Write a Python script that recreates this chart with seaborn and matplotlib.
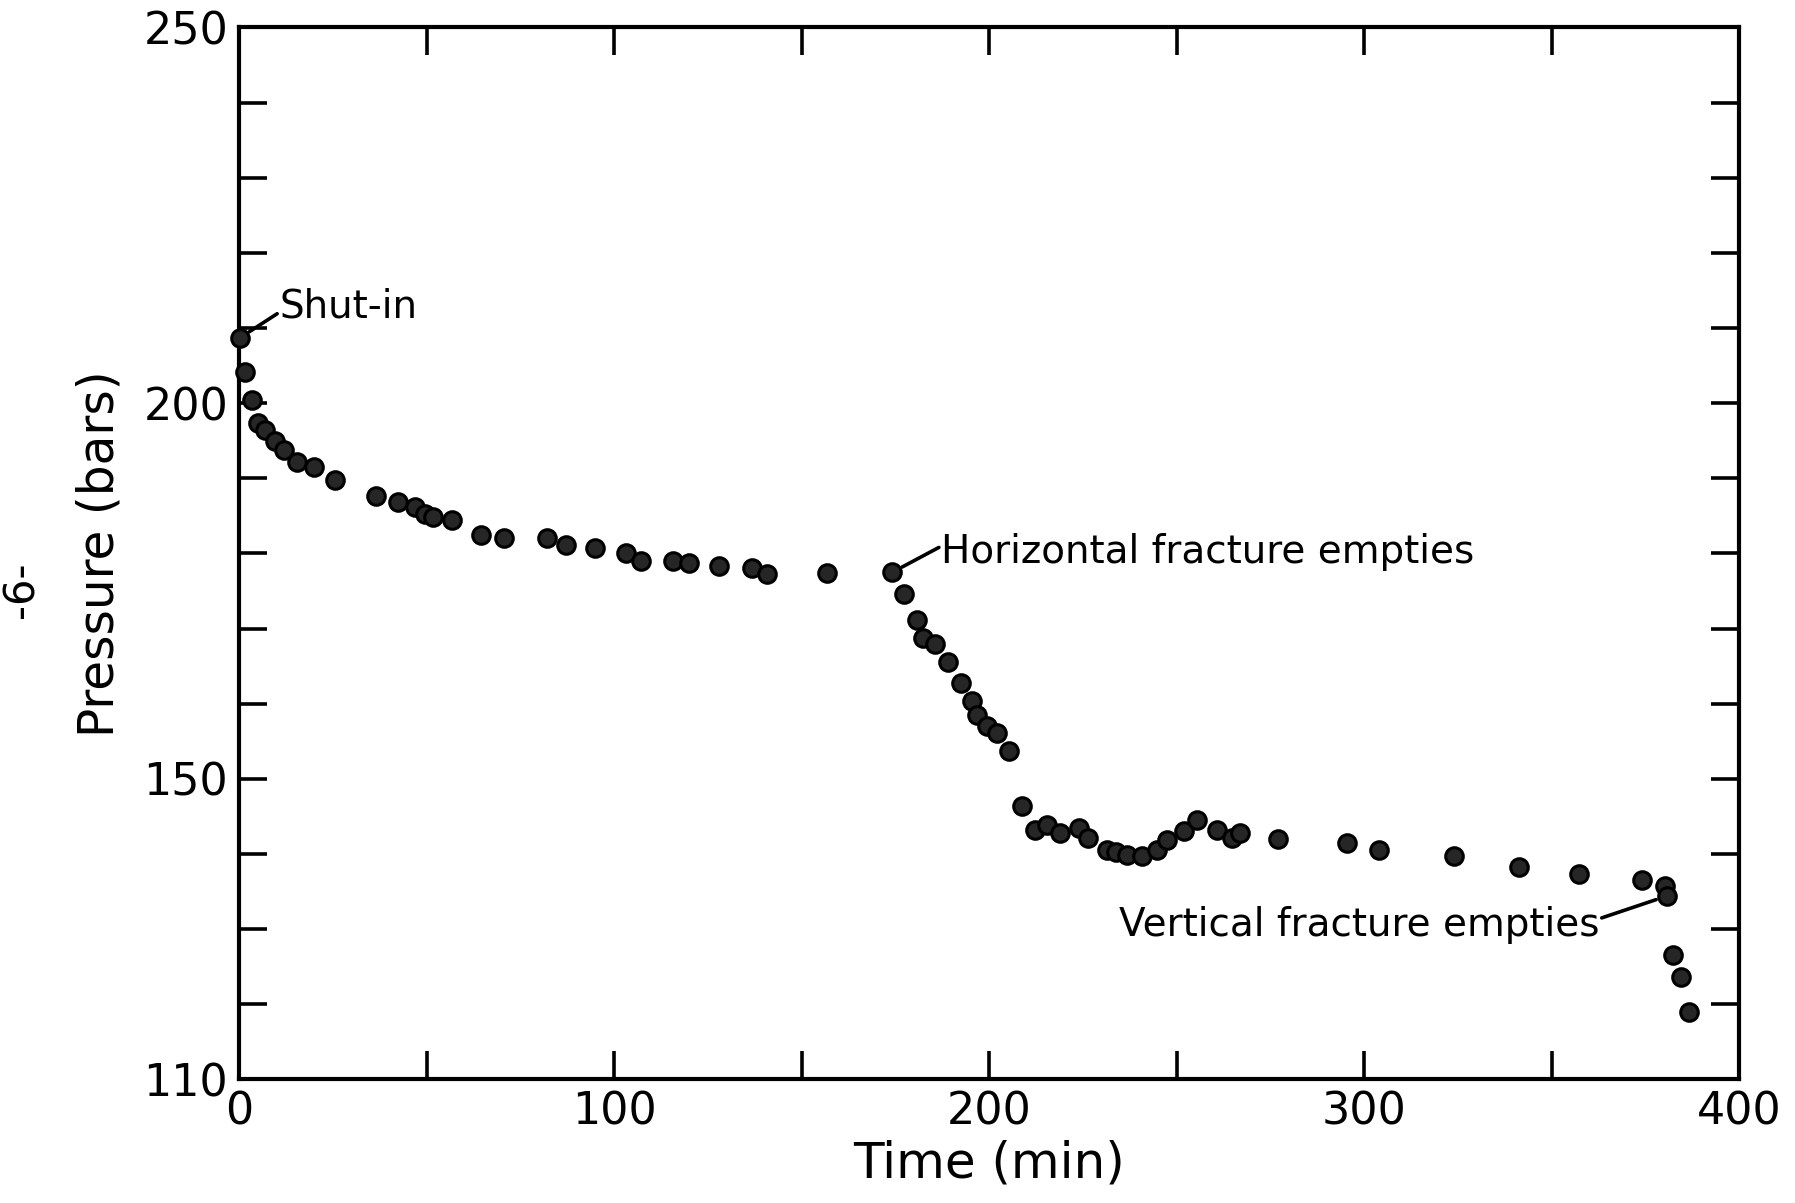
import seaborn as sns
import matplotlib.pyplot as plt
import pandas as pd


# Data
time_min = [0.2, 1.5, 3.3, 5.1, 6.9, 9.5, 11.8, 15.3, 19.8, 25.5,
            36.6, 42.3, 46.9, 49.6, 51.8, 56.7, 64.6, 70.6, 82.2, 87.1,
            94.9, 103.1, 107.2, 115.6, 120.0, 128.0, 136.7, 140.7, 156.7, 174.2,
            177.2, 180.7, 182.4, 185.6, 188.9, 192.4, 195.4, 196.7, 199.4, 202.0,
            205.4, 208.7, 212.2, 215.5, 218.9, 224.1, 226.5, 231.4, 233.8, 236.7,
            240.7, 244.7, 247.4, 252.1, 255.4, 260.7, 264.7, 266.9, 277.1, 295.5,
            304.1, 324.0, 341.2, 357.2, 374.0, 380.3, 380.7, 382.3, 384.5, 386.7]
pressure_bars = [208.7, 204.1, 200.4, 197.3, 196.4, 194.9, 193.8, 192.2, 191.5, 189.8,
                 187.6, 186.8, 186.2, 185.3, 184.9, 184.5, 182.5, 182.0, 182.1, 181.1,
                 180.7, 180.0, 179.0, 179.0, 178.7, 178.3, 178.0, 177.3, 177.4, 177.5,
                 174.6, 171.1, 168.7, 168.0, 165.5, 162.8, 160.3, 158.5, 157.0, 156.1,
                 153.7, 146.4, 143.2, 143.9, 142.8, 143.4, 142.1, 140.5, 140.3, 139.9,
                 139.7, 140.5, 141.9, 143.0, 144.5, 143.2, 142.1, 142.8, 142.0, 141.5,
                 140.6, 139.7, 138.3, 137.4, 136.5, 135.7, 134.4, 126.6, 123.6, 119.0]

x_ticks = [0, 50, 100, 150, 200, 250, 300, 350, 400]
x_tick_labels = ['0', '', '100', '', '200', '', '300', '', '400']
y_ticks = list(range(110, 251, 10))
y_tick_labels = ['110', '', '', '', '150', '', '', '', '', '200', '', '', '', '', '250']

df = pd.DataFrame({'Time': time_min, 'Pressure': pressure_bars})

sns.set_theme(style='ticks')
plt.rcParams['font.family'] = ['DejaVu Sans']
plt.rcParams['text.color'] = 'black'
plt.rcParams['axes.labelcolor'] = 'black'

fig = plt.figure(figsize=(17.95, 12.03), dpi=100)
ax = fig.add_axes([0.1333, 0.1027, 0.8355, 0.8745])

sns.scatterplot(data=df, x='Time', y='Pressure', ax=ax, s=160, clip_on=False, zorder=3,
                color='#262626', edgecolor='black', linewidth=2.2, legend=False)

ax.set_xlim(0, 400)
ax.set_ylim(110, 250)
ax.set_xticks(x_ticks)
ax.set_xticklabels(x_tick_labels)
ax.set_yticks(y_ticks)
ax.set_yticklabels(y_tick_labels)
ax.tick_params(axis='both', direction='in', length=20, width=2.6,
               labelsize=32, pad=8, colors='black')
ax.tick_params(top=True, right=True)
for s in ax.spines.values():
    s.set_linewidth(3)
    s.set_color('black')

ax.set_xlabel('Time (min)', fontsize=36, labelpad=4)
ax.set_ylabel('Pressure (bars)', fontsize=35, labelpad=14)

# Annotations: leader line from the point, then the label beside its end
lines = dict(arrowstyle='-', color='black', lw=2.6, shrinkA=0, shrinkB=8)
ax.annotate('', xy=(time_min[0], pressure_bars[0]), xytext=(10.1, 211.9), arrowprops=lines)
ax.text(10.8, 212.8, 'Shut-in', fontsize=28, va='center', ha='left')

ax.annotate('', xy=(time_min[29], pressure_bars[29]), xytext=(186.6, 180.8), arrowprops=lines)
ax.text(187.2, 180.2, 'Horizontal fracture empties', fontsize=28, va='center', ha='left')

ax.annotate('', xy=(time_min[66], pressure_bars[66]), xytext=(363.4, 131.5), arrowprops=lines)
ax.text(362.8, 130.6, 'Vertical fracture empties', fontsize=28, va='center', ha='right')

# page number in the margin
fig.text(0.012, 0.51, '-6-', rotation=90, fontsize=30, va='center', ha='center')

fig.savefig('out.png', dpi=100, facecolor='white')
